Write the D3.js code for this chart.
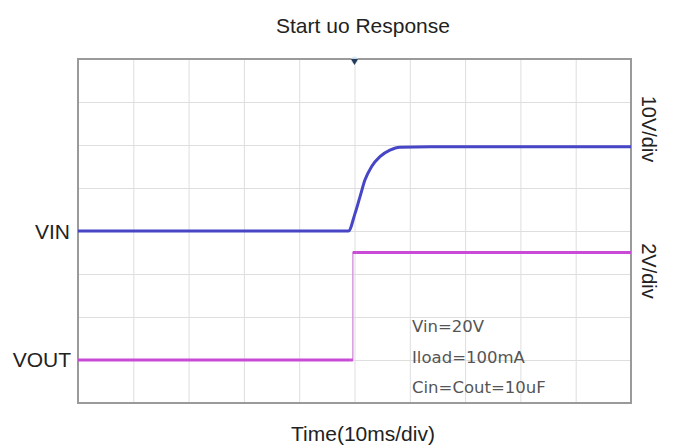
<!DOCTYPE html>
<html>
<head>
<meta charset="utf-8">
<script src="https://cdn.jsdelivr.net/npm/d3@7/dist/d3.min.js"></script>
<style>
  html, body { margin: 0; padding: 0; background: #fff; }
  svg { display: block; }
</style>
</head>
<body>
<svg id="chart" width="676" height="448"></svg>
<script>
// ---- data ----
const titleText = "Start uo Response";
const xLabel = "Time(10ms/div)";
const timeTicks = [0, 10, 20, 30, 40, 50, 60, 70, 80, 90, 100];      // ms, 10ms/div
const vinDivTicks = [-40, -30, -20, -10, 0, 10, 20, 30, 40];           // V, 10V/div
const vinTime = [0, 48.9, 50.1, 51.0, 51.9, 53.1, 54.6, 56.4, 58.2, 63.7, 100];
const vinVolt = [0, 0, 4.1, 8.0, 11.9, 15.0, 17.3, 18.8, 19.5, 19.6, 19.6];
const voutTime = [0, 49.3, 49.7, 49.7, 50.3, 100];
const voutVolt = [0, 0, 0, 5.0, 5.0, 5.0];
const scaleLabels = ["10V/div", "2V/div"];
const notes = ["Vin=20V", "Iload=100mA", "Cin=Cout=10uF"];
const triggerTime = 50;

// ---- layout ----
const L = 78, R = 631, T = 59, B = 403;
const svg = d3.select("#chart");

const x = d3.scaleLinear().domain([0, 100]).range([L, R]);
const yIn = d3.scaleLinear().domain([-40, 40]).range([B, T]);   // VIN, 10V/div, zero at centre
const yOut = d3.scaleLinear().domain([-2, 14]).range([B, T]);   // VOUT, 2V/div, zero one div above bottom

// grid
const gx = svg.append("g").attr("transform", `translate(0,${B})`)
  .call(d3.axisBottom(x).tickValues(timeTicks).tickSize(-(B - T)).tickFormat(""));
gx.select(".domain").remove();
gx.selectAll("line").attr("stroke", "#dedede").attr("stroke-width", 1);

const gy = svg.append("g").attr("transform", `translate(${L},0)`)
  .call(d3.axisLeft(yIn).tickValues(vinDivTicks).tickSize(-(R - L)).tickFormat(""));
gy.select(".domain").remove();
gy.selectAll("line").attr("stroke", "#dedede").attr("stroke-width", 1);

// border
svg.append("rect").attr("x", L).attr("y", T).attr("width", R - L).attr("height", B - T)
  .attr("fill", "none").attr("stroke", "#9a9a9a").attr("stroke-width", 2);

// VOUT
const voutPts = voutTime.map((t, i) => [t, voutVolt[i]]);
const lineOut = d3.line().x(d => x(d[0])).y(d => yOut(d[1]));
svg.append("path").attr("d", lineOut(voutPts)).attr("fill", "none")
  .attr("stroke", "#d89ae0").attr("stroke-width", 1.5);
for (let i = 0; i < voutPts.length - 1; i++) {
  if (voutPts[i][1] === voutPts[i + 1][1]) {
    svg.append("path").attr("d", lineOut([voutPts[i], voutPts[i + 1]])).attr("fill", "none")
      .attr("stroke", "#c84ad6").attr("stroke-width", 3);
  }
}

// VIN
const vinPts = vinTime.map((t, i) => [t, vinVolt[i]]);
const lineIn = d3.line().x(d => x(d[0])).y(d => yIn(d[1])).curve(d3.curveMonotoneX);
svg.append("path").attr("d", lineIn(vinPts)).attr("fill", "none")
  .attr("stroke", "#4646c6").attr("stroke-width", 3);

// trigger marker
svg.append("circle").attr("cx", x(triggerTime)).attr("cy", T + 1).attr("r", 3.5)
  .attr("fill", "#cfe6f5").attr("opacity", 0.8);
svg.append("path").attr("d", d3.symbol(d3.symbolTriangle, 22)())
  .attr("transform", `translate(${x(triggerTime)},${T + 2}) rotate(180)`)
  .attr("fill", "#283a5a");

// texts
const bigFont = "'Liberation Sans', Arial, sans-serif";
svg.append("text").attr("x", 363).attr("y", 33).attr("text-anchor", "middle")
  .attr("font-family", bigFont).attr("font-size", 21).attr("fill", "#222").text(titleText);
svg.append("text").attr("x", 363).attr("y", 441).attr("text-anchor", "middle")
  .attr("font-family", bigFont).attr("font-size", 21).attr("fill", "#222").text(xLabel);

svg.append("text").attr("x", 70).attr("y", yIn(0) + 8).attr("text-anchor", "end")
  .attr("font-family", bigFont).attr("font-size", 21).attr("fill", "#222").text("VIN");
svg.append("text").attr("x", 71).attr("y", yOut(0) + 7).attr("text-anchor", "end")
  .attr("font-family", bigFont).attr("font-size", 21).attr("fill", "#222").text("VOUT");

const scaleY = [129, 271];
scaleLabels.forEach((s, i) => {
  svg.append("text").attr("transform", `translate(642,${scaleY[i]}) rotate(90)`)
    .attr("text-anchor", "middle").attr("font-family", bigFont).attr("font-size", 20)
    .attr("fill", "#222").text(s);
});

const noteY = [332, 363, 393];
notes.forEach((s, i) => {
  svg.append("text").attr("x", 412).attr("y", noteY[i])
    .attr("font-family", "'DejaVu Sans', sans-serif").attr("font-size", 16.5)
    .attr("fill", "#555").text(s);
});
</script>
</body>
</html>
